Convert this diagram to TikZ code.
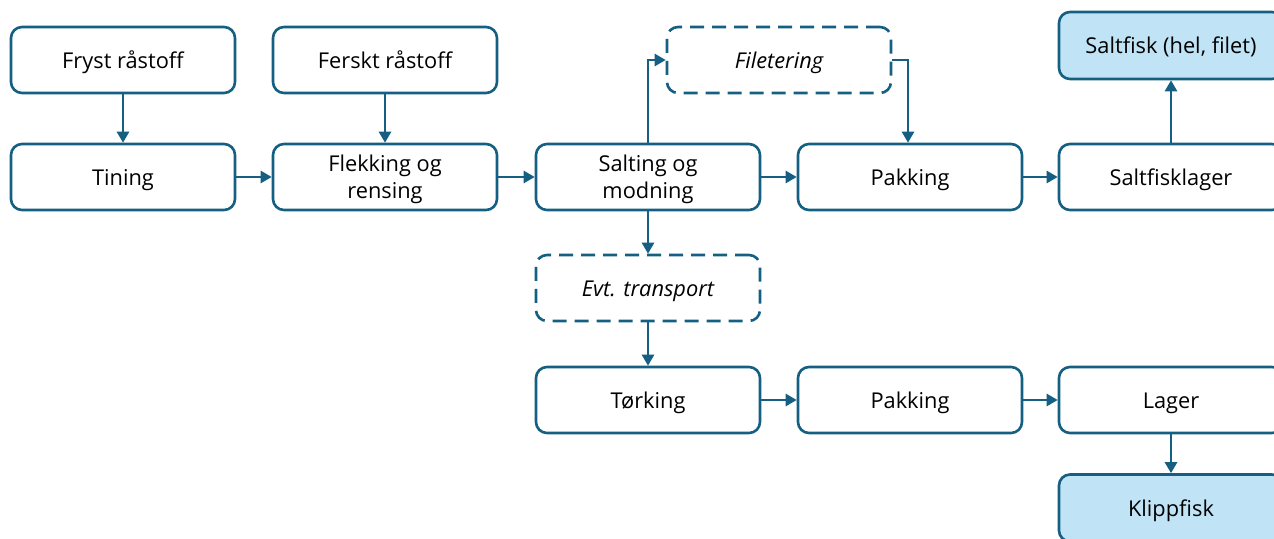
\documentclass[tikz,border=0pt]{standalone}
\usepackage{fontspec}
\setmainfont{Open Sans}
\usetikzlibrary{arrows.meta}
\definecolor{lc}{RGB}{21,96,130}
\definecolor{lb}{RGB}{192,228,245}
\tikzset{
  lbl/.style={font=\fontsize{21.8}{27}\selectfont, text=black, align=center, inner sep=0pt, yshift=-2.5pt},
  lbla/.style={lbl, text height=16pt, text depth=5pt},
  box/.style={draw=lc, line width=2.6pt, rounded corners=11pt, minimum width=224pt, minimum height=66pt, inner sep=0pt, fill=white},
  optbox/.style={box, dash pattern=on 14pt off 8pt},
  endbox/.style={box, fill=lb, minimum height=67pt},
  arr/.style={draw=lc, line width=2.6pt, -{Triangle[length=11pt,width=12pt]}}
}
\begin{document}
\begin{tikzpicture}[x=1pt,y=-1pt]
\clip (0,0) rectangle (1274,538);
\fill[white] (0,0) rectangle (1274,538);
\node[box, label={[lbla]center:Fryst råstoff}] (fryst) at (123,60) {};
\node[box, label={[lbla]center:Ferskt råstoff}] (ferskt) at (385,60) {};
\node[optbox, label={[lbla]center:\itshape Filetering}] (filet) at (779,60) {};
\node[endbox, label={[lbla]center:Saltfisk (hel, filet)}] (saltfisk) at (1171,45.5) {};
\node[box, label={[lbla]center:Tining}] (tining) at (123,177) {};
\node[box, label={[lbl]center:Flekking og\\rensing}] (flekk) at (385,177) {};
\node[box, label={[lbl]center:Salting og\\modning}] (salting) at (648,177) {};
\node[box, label={[lbla]center:Pakking}] (pakk1) at (910,177) {};
\node[box, label={[lbla]center:Saltfisklager}] (sflager) at (1171,177) {};
\node[optbox, label={[lbla]center:\itshape Evt. transport}] (transp) at (648,288) {};
\node[box, label={[lbla]center:Tørking}] (tork) at (648,400) {};
\node[box, label={[lbla]center:Pakking}] (pakk2) at (910,400) {};
\node[box, label={[lbla]center:Lager}] (lager) at (1171,400) {};
\node[endbox, label={[lbla]center:Klippfisk}] (klipp) at (1171,508) {};
\draw[arr] (fryst) -- (tining);
\draw[arr] (ferskt) -- (flekk);
\draw[arr] (tining) -- (flekk);
\draw[arr] (flekk) -- (salting);
\draw[arr] (salting) -- (pakk1);
\draw[arr] (pakk1) -- (sflager);
\draw[arr] (sflager) -- (saltfisk);
\draw[arr] (salting.north) |- (filet.west);
\draw[arr] (filet.east) -| ([xshift=-2pt]pakk1.north);
\draw[arr] (salting) -- (transp);
\draw[arr] (transp) -- (tork);
\draw[arr] (tork) -- (pakk2);
\draw[arr] (pakk2) -- (lager);
\draw[arr] (lager) -- (klipp);
\end{tikzpicture}
\end{document}
